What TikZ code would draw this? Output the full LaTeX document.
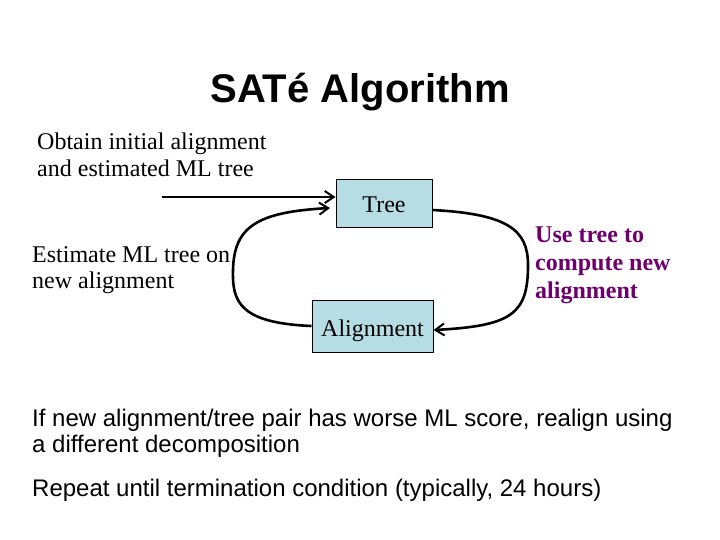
\documentclass[tikz,border=0pt]{standalone}
\usepackage{fontspec}
\setmainfont{Liberation Serif}
\newfontfamily\arialfont{Liberation Sans}
\usetikzlibrary{arrows.meta}
\definecolor{boxfill}{RGB}{183,221,228}
\definecolor{purpletext}{RGB}{110,0,110}
\tikzset{
  flowbox/.style={draw=black, line width=1pt, fill=boxfill, inner sep=0pt, font=\fontsize{24}{28}\selectfont},
  serifline/.style={anchor=base west, inner sep=0pt, font=\fontsize{24}{28}\selectfont},
  purpleline/.style={anchor=base west, inner sep=0pt, text=purpletext, font=\fontsize{24}{28}\selectfont\bfseries},
  sansline/.style={anchor=base west, inner sep=0pt, font=\arialfont\fontsize{24}{28}\selectfont},
  flowarrow/.style={line width=2.6pt, -{Straight Barb[length=9pt,width=12pt,line width=2pt]}},
}
\begin{document}
\begin{tikzpicture}[x=1pt,y=-1pt]
\useasboundingbox (0,0) rectangle (720,540);
% title
\node[anchor=base, inner sep=0pt, font=\arialfont\bfseries\fontsize{40}{46}\selectfont] (title) at (360,103) {SATé Algorithm};
% boxes
\node[flowbox, minimum width=96pt, minimum height=48pt] (tree) at (384,204) {};
\node[anchor=base, inner sep=0pt, font=\fontsize{24}{28}\selectfont] (treelbl) at (384,212.5) {Tree};
\node[flowbox, minimum width=121pt, minimum height=52pt] (align) at (372.5,326) {};
\node[anchor=base, inner sep=0pt, font=\fontsize{24}{28}\selectfont] (alignlbl) at (372.5,336.5) {Alignment};
% left texts
\node[serifline] (ob1) at (37,150) {Obtain initial alignment};
\node[serifline] (ob2) at (37,176.5) {and estimated ML tree};
\node[serifline] (es1) at (32,262) {Estimate ML tree on};
\node[serifline] (es2) at (32,288) {new alignment};
% purple texts
\node[purpleline] (u1) at (535,243) {Use tree to};
\node[purpleline] (u2) at (535,270.5) {compute new};
\node[purpleline] (u3) at (535,298) {alignment};
% connectors
\coordinate (start) at (162,197);
\coordinate (tin) at (330,208);
\draw[flowarrow] (start) -- (start -| tree.west);
\draw[flowarrow] (align.west) .. controls (240,323) and (232,302) .. (233,270)
   .. controls (234,226) and (258,212) .. (tin);
\draw[flowarrow] ([yshift=-6pt]tree.east) .. controls (508,214) and (528,230) .. (528,265)
   .. controls (528,314) and (512,326) .. ([yshift=-4pt]align.east);
% bottom texts
\node[sansline] (b1) at (32,426) {If new alignment/tree pair has worse ML score, realign using};
\node[sansline] (b2) at (32,452) {a different decomposition};
\node[sansline] (b3) at (32,496) {Repeat until termination condition (typically, 24 hours)};
\end{tikzpicture}
\end{document}
